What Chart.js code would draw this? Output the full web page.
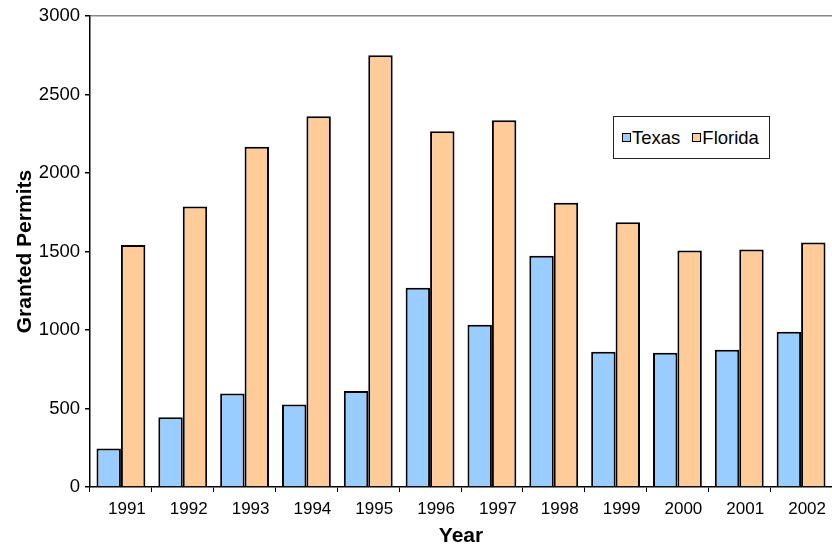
<!DOCTYPE html>
<html>
<head>
<meta charset="utf-8">
<script src="https://cdn.jsdelivr.net/npm/chart.js@4"></script>
<style>
	html, body { margin: 0; padding: 0; background: #fff; }
	#wrap { position: relative; width: 832px; height: 550px; }
	#legend {
		position: absolute; left: 613px; top: 116px; width: 157px; height: 43px;
		border: 1px solid #222; background: #fff;
		font-family: "Liberation Sans", Arial, sans-serif; font-size: 18.5px; color: #000;
		display: flex; align-items: center; padding-left: 8px; box-sizing: border-box; white-space: nowrap;
	}
	#legend span.box { display: inline-block; width: 7px; height: 7px; border: 1.5px solid #000; margin-right: 1px; }
	#legend span.item { display: inline-flex; align-items: center; margin-right: 12px; }
</style>
</head>
<body>
<div id="wrap">
	<canvas id="permitsChart"></canvas>
	<div id="legend">
		<span class="item"><span class="box" style="background:#99CCFF"></span>Texas</span>
		<span class="item"><span class="box" style="background:#FFCC99"></span>Florida</span>
	</div>
</div>
<script>
// data
const years = ['1991', '1992', '1993', '1994', '1995', '1996', '1997', '1998', '1999', '2000', '2001', '2002'];
const texas = [245, 445, 595, 525, 612, 1270, 1034, 1474, 862, 855, 874, 989];
const florida = [1542, 1787, 2168, 2362, 2751, 2266, 2336, 1811, 1686, 1507, 1513, 1557];

const font = 'Liberation Sans, Arial, sans-serif';

function showChart() {
	var ctx = document.getElementById('permitsChart').getContext('2d');
	new Chart(ctx, {
		type: 'bar',
		data: {
			labels: years,
			datasets: [{
				label: 'Texas',
				data: texas,
				backgroundColor: '#99CCFF',
				borderColor: '#000',
				borderWidth: 2
			}, {
				label: 'Florida',
				data: florida,
				backgroundColor: '#FFCC99',
				borderColor: '#000',
				borderWidth: 2
			}]
		},
		options: {
			responsive: true,
			maintainAspectRatio: false,
			animation: false,
			layout: { padding: { top: 16, left: 0, right: 0, bottom: 0 } },
			datasets: { bar: { barPercentage: 1, categoryPercentage: 0.79 } },
			plugins: {
				legend: { display: false },
				tooltip: { enabled: false }
			},
			scales: {
				x: {
					grid: { display: true, drawOnChartArea: false, drawTicks: true, tickLength: 5, color: '#000', offset: true },
					border: { display: true, color: '#000', width: 1.5 },
					ticks: { color: '#000', font: { family: font, size: 17 }, padding: 7, labelOffset: 6, maxRotation: 0 },
					title: { display: true, text: 'Year', color: '#000', font: { family: font, size: 21, weight: 'bold' }, padding: { top: 2, bottom: 1 } },
					afterFit: function (s) { s.height = 63; }
				},
				y: {
					min: 0,
					max: 3000,
					ticks: {
						stepSize: 500, color: '#000', font: { family: font, size: 18.5 }, padding: 5,
						callback: function (v) { return String(v); }
					},
					grid: {
						display: true,
						drawTicks: true,
						tickLength: 5,
						tickColor: '#000',
						color: function (c) { return c.tick && c.tick.value === 3000 ? '#888' : 'rgba(0,0,0,0)'; },
						lineWidth: 1.5
					},
					border: { display: true, color: '#000', width: 1.5 },
					title: { display: true, text: 'Granted Permits', color: '#000', font: { family: font, size: 21, weight: 'bold' }, padding: { top: 13, bottom: 0 } },
					afterFit: function (s) { s.width = 90; }
				}
			}
		}
	});
}
showChart();
</script>
</body>
</html>
